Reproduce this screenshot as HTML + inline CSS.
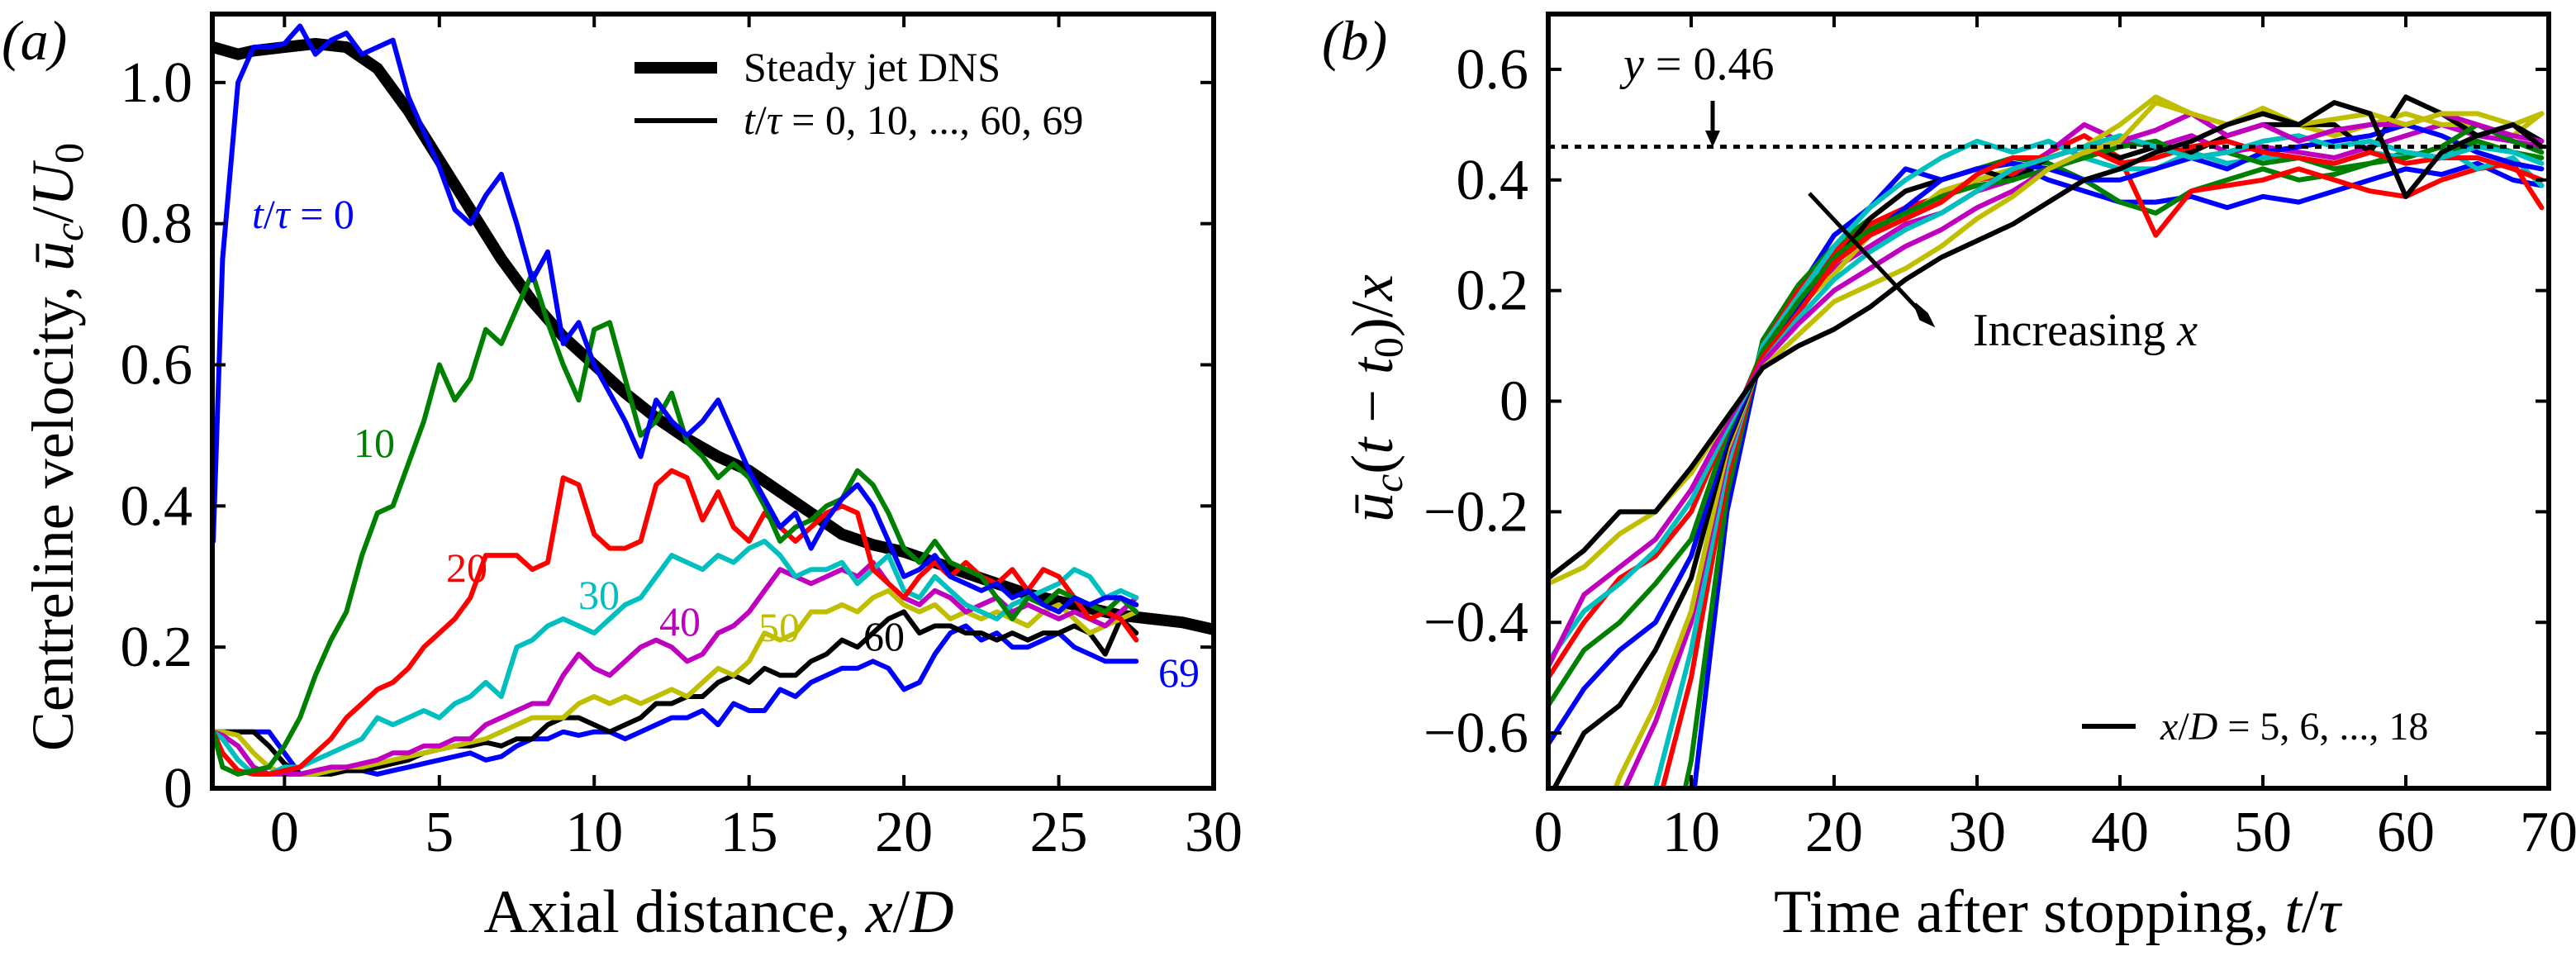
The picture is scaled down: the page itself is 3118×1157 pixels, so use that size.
<!DOCTYPE html>
<html><head><meta charset="utf-8"><style>
html,body{margin:0;padding:0;background:#fff;width:3118px;height:1157px;overflow:hidden}
svg{display:block;font-family:"Liberation Serif",serif}
</style></head><body>
<svg id="fig" width="3118" height="1157" viewBox="0 0 3118 1157" xmlns="http://www.w3.org/2000/svg">
<defs>
<clipPath id="clipA"><rect x="257" y="17" width="1212" height="937"/></clipPath>
<clipPath id="clipB"><rect x="1874" y="17" width="1211" height="937"/></clipPath>
</defs>
<g id="panelA"></g>
<g id="panelB"></g>

<text x="2" y="72" font-size="68" font-style="italic">(a)</text>
<text x="1600" y="72" font-size="68" font-style="italic">(b)</text>

<text transform="translate(88,541) rotate(-90)" text-anchor="middle" font-size="72">Centreline velocity, <tspan font-style="italic">ū</tspan><tspan font-style="italic" font-size="50" dy="12">c</tspan><tspan dy="-12">/</tspan><tspan font-style="italic">U</tspan><tspan font-size="50" dy="12">0</tspan></text>
<text x="870" y="1128" text-anchor="middle" font-size="74">Axial distance, <tspan font-style="italic">x</tspan>/<tspan font-style="italic">D</tspan></text>

<text transform="translate(1685,482) rotate(-90)" text-anchor="middle" font-size="72"><tspan font-style="italic">ū</tspan><tspan font-style="italic" font-size="50" dy="12">c</tspan><tspan dy="-12">(</tspan><tspan font-style="italic">t</tspan> − <tspan font-style="italic">t</tspan><tspan font-size="50" dy="12">0</tspan><tspan dy="-12">)/</tspan><tspan font-style="italic">x</tspan></text>
<text x="2490" y="1128" text-anchor="middle" font-size="74">Time after stopping, <tspan font-style="italic">t</tspan>/<tspan font-style="italic">τ</tspan></text>

<g>
<line x1="768" y1="82" x2="868" y2="82" stroke="#000" stroke-width="14"/>
<text x="900" y="98" font-size="50">Steady jet DNS</text>
<line x1="768" y1="146" x2="868" y2="146" stroke="#000" stroke-width="6"/>
<text x="900" y="162" font-size="50"><tspan font-style="italic">t</tspan>/<tspan font-style="italic">τ</tspan> = 0, 10, ..., 60, 69</text>
</g>

<g font-size="50">
<text x="305" y="276" fill="#0000ff"><tspan font-style="italic">t</tspan>/<tspan font-style="italic">τ</tspan> = 0</text>
<text x="428" y="553" fill="#008000">10</text>
<text x="540" y="704" fill="#ff0000">20</text>
<text x="700" y="737" fill="#00bfbf">30</text>
<text x="798" y="769" fill="#bf00bf">40</text>
<text x="918" y="776" fill="#bfbf00">50</text>
<text x="1045" y="787" fill="#000">60</text>
<text x="1402" y="831" fill="#0000ff">69</text>
</g>

<g>
<text x="1965" y="96" font-size="56"><tspan font-style="italic">y</tspan> = 0.46</text>
<line x1="2073" y1="122" x2="2073" y2="160" stroke="#000" stroke-width="5"/>
<polygon points="2064,158 2082,158 2073,178" fill="#000"/>
<line x1="2190" y1="234" x2="2325" y2="378" stroke="#000" stroke-width="5"/>
<polygon points="2318,368 2332,380 2338,392 2325,386" fill="#000" stroke="#000" stroke-width="4"/>
<text x="2388" y="418" font-size="56">Increasing <tspan font-style="italic">x</tspan></text>
<line x1="2520" y1="879" x2="2585" y2="879" stroke="#000" stroke-width="6"/>
<text x="2615" y="895" font-size="48"><tspan font-style="italic">x</tspan>/<tspan font-style="italic">D</tspan> = 5, 6, ..., 18</text>
</g>
</svg>
<script>
// ---------- Panel A data ----------
const xA = [-2.3,-2,-1.5,-1,-0.5,0,0.5,1,1.5,2,2.5,3,3.5,4,4.5,5,5.5,6,6.5,7,7.5,8,8.5,9,9.5,10,10.5,11,11.5,12,12.5,13,13.5,14,14.5,15,15.5,16,16.5,17,17.5,18,18.5,19,19.5,20,20.5,21,21.5,22,22.5,23,23.5,24,24.5,25,25.5,26,26.5,27,27.5];
const xSteady = [-2.3,-1.5,-1,0,1,2,3,4,5,6,7,8,9,10,11,12,13,14,15,16,17,18,19,20,21,22,23,24,25,26,27,28,29,30];
const ySteady = [1.05,1.04,1.045,1.05,1.055,1.05,1.02,0.96,0.89,0.82,0.75,0.69,0.64,0.6,0.56,0.525,0.495,0.47,0.45,0.42,0.39,0.36,0.345,0.335,0.32,0.305,0.29,0.275,0.265,0.255,0.245,0.24,0.235,0.225];
const yT0 = [0.35,0.75,1.0,1.05,1.05,1.055,1.08,1.04,1.06,1.07,1.04,1.05,1.06,0.98,0.93,0.88,0.82,0.8,0.84,0.87,0.8,0.72,0.76,0.63,0.66,0.6,0.56,0.52,0.47,0.55,0.52,0.5,0.52,0.55,0.5,0.45,0.41,0.37,0.39,0.34,0.38,0.41,0.43,0.4,0.35,0.3,0.31,0.33,0.3,0.29,0.28,0.29,0.27,0.28,0.26,0.25,0.27,0.26,0.27,0.27,0.26];
const yT10 = [0.08,0.03,0.02,0.025,0.03,0.06,0.1,0.16,0.21,0.25,0.33,0.39,0.4,0.46,0.52,0.6,0.55,0.58,0.65,0.63,0.68,0.73,0.66,0.6,0.55,0.65,0.66,0.58,0.5,0.52,0.56,0.49,0.47,0.44,0.46,0.44,0.4,0.35,0.37,0.38,0.4,0.41,0.45,0.43,0.39,0.34,0.32,0.35,0.32,0.31,0.3,0.27,0.24,0.27,0.26,0.28,0.27,0.26,0.25,0.27,0.25];
const yT20 = [0.08,0.05,0.025,0.02,0.02,0.025,0.03,0.05,0.07,0.1,0.12,0.14,0.15,0.17,0.2,0.22,0.24,0.27,0.33,0.33,0.33,0.31,0.32,0.44,0.43,0.36,0.34,0.34,0.35,0.43,0.45,0.44,0.38,0.42,0.37,0.35,0.39,0.37,0.35,0.37,0.39,0.4,0.39,0.31,0.29,0.27,0.3,0.32,0.3,0.32,0.3,0.29,0.31,0.28,0.31,0.3,0.27,0.24,0.25,0.24,0.21];
const yT30 = [0.08,0.07,0.04,0.02,0.02,0.03,0.03,0.04,0.05,0.06,0.07,0.1,0.09,0.1,0.11,0.1,0.12,0.13,0.15,0.13,0.2,0.21,0.23,0.24,0.23,0.22,0.24,0.26,0.27,0.3,0.33,0.32,0.31,0.33,0.32,0.34,0.35,0.33,0.3,0.31,0.31,0.32,0.29,0.31,0.33,0.28,0.27,0.3,0.28,0.26,0.25,0.24,0.26,0.27,0.28,0.29,0.31,0.3,0.27,0.28,0.27];
const yT40 = [0.08,0.075,0.06,0.03,0.02,0.02,0.02,0.025,0.03,0.03,0.035,0.04,0.05,0.05,0.06,0.06,0.07,0.07,0.09,0.1,0.11,0.12,0.12,0.16,0.19,0.17,0.16,0.18,0.2,0.21,0.2,0.18,0.19,0.22,0.23,0.25,0.28,0.31,0.3,0.29,0.3,0.31,0.3,0.32,0.29,0.27,0.26,0.28,0.27,0.25,0.26,0.27,0.25,0.26,0.25,0.24,0.25,0.24,0.23,0.25,0.27];
const yT50 = [0.08,0.08,0.075,0.05,0.03,0.02,0.02,0.02,0.025,0.03,0.03,0.035,0.04,0.045,0.05,0.055,0.06,0.065,0.07,0.08,0.09,0.1,0.1,0.1,0.12,0.13,0.12,0.13,0.12,0.13,0.14,0.13,0.15,0.17,0.16,0.18,0.22,0.21,0.22,0.25,0.25,0.26,0.25,0.27,0.28,0.26,0.25,0.26,0.24,0.25,0.24,0.25,0.24,0.23,0.25,0.26,0.24,0.22,0.23,0.24,0.25];
const yT60 = [0.08,0.08,0.08,0.08,0.06,0.035,0.02,0.02,0.02,0.025,0.025,0.03,0.035,0.04,0.05,0.055,0.06,0.06,0.065,0.06,0.07,0.07,0.09,0.1,0.1,0.09,0.08,0.09,0.1,0.12,0.12,0.13,0.13,0.15,0.16,0.15,0.17,0.16,0.16,0.18,0.19,0.21,0.2,0.22,0.24,0.25,0.22,0.23,0.23,0.22,0.22,0.21,0.22,0.21,0.22,0.22,0.23,0.22,0.19,0.24,0.22];
const yT69 = [0.08,0.08,0.08,0.08,0.08,0.05,0.02,0.02,0.025,0.025,0.025,0.02,0.025,0.03,0.035,0.04,0.045,0.05,0.04,0.045,0.06,0.07,0.07,0.08,0.075,0.08,0.08,0.07,0.08,0.09,0.1,0.1,0.11,0.09,0.12,0.11,0.11,0.14,0.13,0.15,0.16,0.17,0.17,0.18,0.17,0.14,0.15,0.19,0.22,0.23,0.21,0.22,0.2,0.2,0.21,0.22,0.2,0.19,0.18,0.18,0.18];
const xTicksA = [0,5,10,15,20,25,30];
const yTicksA = [0,0.2,0.4,0.6,0.8,1.0];
const yTickLabelsA = ["0","0.2","0.4","0.6","0.8","1.0"];

// ---------- Panel B data ----------
const tB = [0,2.5,5,7.5,10,12.5,15,17.5,20,22.5,25,27.5,30,32.5,35,37.5,40,42.5,45,47.5,50,52.5,55,57.5,60,62.5,65,67.5,69.5];
const b5  = [-1.5,-1.4,-1.3,-1.1,-0.75,-0.2,0.1,0.2,0.3,0.35,0.42,0.4,0.42,0.43,0.4,0.38,0.36,0.36,0.37,0.35,0.37,0.36,0.38,0.4,0.42,0.41,0.43,0.4,0.39];
const b6  = [-1.4,-1.3,-1.1,-0.95,-0.65,-0.17,0.11,0.21,0.28,0.33,0.38,0.4,0.42,0.44,0.43,0.4,0.36,0.34,0.38,0.4,0.42,0.4,0.41,0.43,0.45,0.44,0.47,0.45,0.44];
const b7  = [-1.2,-1.05,-0.95,-0.75,-0.5,-0.14,0.1,0.2,0.27,0.32,0.35,0.37,0.4,0.41,0.45,0.48,0.44,0.3,0.38,0.39,0.4,0.42,0.4,0.38,0.37,0.4,0.42,0.43,0.35];
const b8  = [-1.1,-1.0,-0.85,-0.7,-0.45,-0.12,0.1,0.19,0.28,0.35,0.4,0.44,0.47,0.45,0.47,0.44,0.42,0.42,0.45,0.43,0.44,0.44,0.43,0.45,0.44,0.46,0.42,0.44,0.39];
const b9  = [-1.0,-0.9,-0.72,-0.58,-0.4,-0.1,0.09,0.18,0.24,0.28,0.32,0.34,0.38,0.4,0.45,0.5,0.47,0.46,0.48,0.45,0.46,0.45,0.44,0.46,0.48,0.5,0.48,0.47,0.46];
const b10 = [-0.95,-0.85,-0.68,-0.55,-0.38,-0.09,0.08,0.17,0.23,0.3,0.33,0.38,0.4,0.42,0.44,0.46,0.5,0.55,0.52,0.5,0.52,0.5,0.48,0.5,0.52,0.5,0.5,0.48,0.52];
const b11 = [-0.72,-0.6,-0.55,-0.45,-0.32,-0.08,0.08,0.18,0.25,0.33,0.38,0.4,0.42,0.4,0.44,0.46,0.44,0.46,0.45,0.48,0.5,0.5,0.5,0.45,0.55,0.52,0.48,0.5,0.47];
const b12 = [-0.62,-0.52,-0.45,-0.4,-0.28,-0.07,0.08,0.17,0.25,0.3,0.35,0.4,0.42,0.43,0.42,0.4,0.4,0.42,0.44,0.42,0.45,0.46,0.47,0.48,0.5,0.48,0.45,0.43,0.42];
const b13 = [-0.55,-0.45,-0.4,-0.33,-0.25,-0.06,0.09,0.18,0.26,0.31,0.34,0.37,0.39,0.4,0.42,0.44,0.46,0.47,0.44,0.45,0.43,0.44,0.42,0.43,0.44,0.46,0.5,0.47,0.45];
const b14 = [-0.5,-0.4,-0.32,-0.28,-0.2,-0.05,0.08,0.16,0.25,0.3,0.33,0.36,0.41,0.44,0.44,0.46,0.43,0.44,0.46,0.47,0.45,0.44,0.43,0.45,0.43,0.44,0.44,0.42,0.4];
const b15 = [-0.47,-0.38,-0.33,-0.27,-0.18,-0.05,0.07,0.15,0.22,0.27,0.31,0.34,0.38,0.42,0.44,0.46,0.48,0.46,0.44,0.45,0.47,0.48,0.46,0.47,0.45,0.44,0.46,0.45,0.43];
const b16 = [-0.48,-0.35,-0.3,-0.25,-0.16,-0.04,0.07,0.14,0.2,0.24,0.28,0.31,0.35,0.38,0.42,0.45,0.47,0.49,0.52,0.48,0.5,0.47,0.49,0.5,0.5,0.52,0.5,0.48,0.47];
const b17 = [-0.33,-0.3,-0.24,-0.2,-0.13,-0.03,0.06,0.12,0.18,0.21,0.24,0.28,0.33,0.37,0.42,0.45,0.47,0.54,0.52,0.5,0.53,0.5,0.51,0.52,0.5,0.52,0.52,0.5,0.52];
const b18 = [-0.32,-0.27,-0.2,-0.2,-0.12,-0.03,0.06,0.1,0.13,0.17,0.22,0.26,0.29,0.32,0.36,0.4,0.42,0.45,0.47,0.5,0.52,0.5,0.54,0.52,0.37,0.45,0.48,0.5,0.46];
const refLineB = 0.46;
const xTicksB = [0,10,20,30,40,50,60,70];
const yTicksB = [-0.6,-0.4,-0.2,0,0.2,0.4,0.6];
const yTickLabelsB = ["−0.6","−0.4","−0.2","0","0.2","0.4","0.6"];

const NS = "http://www.w3.org/2000/svg";
function mk(tag, attrs, parent){
  const e = document.createElementNS(NS, tag);
  for (const k in attrs) e.setAttribute(k, attrs[k]);
  parent.appendChild(e);
  return e;
}
const A = {x0:257,x1:1469,y0:954,y1:17,xmin:-2.33,xmax:30,ymin:0,ymax:1.097};
const B = {x0:1874,x1:3085,y0:954,y1:17,xmin:0,xmax:70,ymin:-0.7,ymax:0.7};
function sx(P,v){return P.x0+(v-P.xmin)/(P.xmax-P.xmin)*(P.x1-P.x0);}
function sy(P,v){return P.y0-(v-P.ymin)/(P.ymax-P.ymin)*(P.y0-P.y1);}
function pathD(P,xs,ys){return xs.map((x,i)=>(i?"L":"M")+sx(P,x).toFixed(1)+","+sy(P,ys[i]).toFixed(1)).join("");}

function drawSeries(P, g, xs, ys, color, w, name){
  const p = mk("path",{d:pathD(P,xs,ys),fill:"none",stroke:color,"stroke-width":w,"stroke-linejoin":"round","stroke-linecap":"round"},g);
  
  
}
function drawFrame(P, g, xt, yt, ylabels, name){
  const f = mk("rect",{x:P.x0,y:P.y1,width:P.x1-P.x0,height:P.y0-P.y1,fill:"none",stroke:"#000","stroke-width":6},g);
  
  
  xt.forEach(v=>{
    const x = sx(P,v);
    mk("line",{x1:x,y1:P.y0,x2:x,y2:P.y0-16,stroke:"#000","stroke-width":4},g);
    mk("line",{x1:x,y1:P.y1,x2:x,y2:P.y1+16,stroke:"#000","stroke-width":4},g);
    const t = mk("text",{x:x,y:P.y0+76,"text-anchor":"middle","font-size":70},g);
    t.textContent = String(v);
    
    
  });
  yt.forEach((v,i)=>{
    const y = sy(P,v);
    mk("line",{x1:P.x0,y1:y,x2:P.x0+16,y2:y,stroke:"#000","stroke-width":4},g);
    mk("line",{x1:P.x1,y1:y,x2:P.x1-16,y2:y,stroke:"#000","stroke-width":4},g);
    const t = mk("text",{x:P.x0-24,y:y+23,"text-anchor":"end","font-size":70},g);
    t.textContent = ylabels[i];
    
    
  });
}

const gA = document.getElementById("panelA");
const cA = mk("g",{"clip-path":"url(#clipA)"},gA);
drawSeries(A,cA,xSteady,ySteady,"#000",14,"steady-jet-dns-line");
drawSeries(A,cA,xA,yT69,"#0000ff",6,"line-t69");
drawSeries(A,cA,xA,yT60,"#000000",6,"line-t60");
drawSeries(A,cA,xA,yT50,"#bfbf00",6,"line-t50");
drawSeries(A,cA,xA,yT40,"#bf00bf",6,"line-t40");
drawSeries(A,cA,xA,yT30,"#00bfbf",6,"line-t30");
drawSeries(A,cA,xA,yT20,"#ff0000",6,"line-t20");
drawSeries(A,cA,xA,yT10,"#008000",6,"line-t10");
drawSeries(A,cA,xA,yT0,"#0000ff",6,"line-t0");
drawFrame(A,gA,xTicksA,yTicksA,yTickLabelsA,"panel-a");

const gB = document.getElementById("panelB");
const cB = mk("g",{"clip-path":"url(#clipB)"},gB);
const seriesB = [b5,b6,b7,b8,b9,b10,b11,b12,b13,b14,b15,b16,b17,b18];
const colorsB = ["#0000ff","#008000","#ff0000","#00bfbf","#bf00bf","#bfbf00","#000000"];
seriesB.forEach((s,i)=>{
  drawSeries(B,cB,tB,s,colorsB[i%7],6,"line-xD-"+(i+5));
});
const ref = mk("line",{x1:B.x0,x2:B.x1,y1:sy(B,refLineB),y2:sy(B,refLineB),stroke:"#000","stroke-width":5,"stroke-dasharray":"8,8"},cB);


drawFrame(B,gB,xTicksB,yTicksB,yTickLabelsB,"panel-b");
</script>
</body></html>
